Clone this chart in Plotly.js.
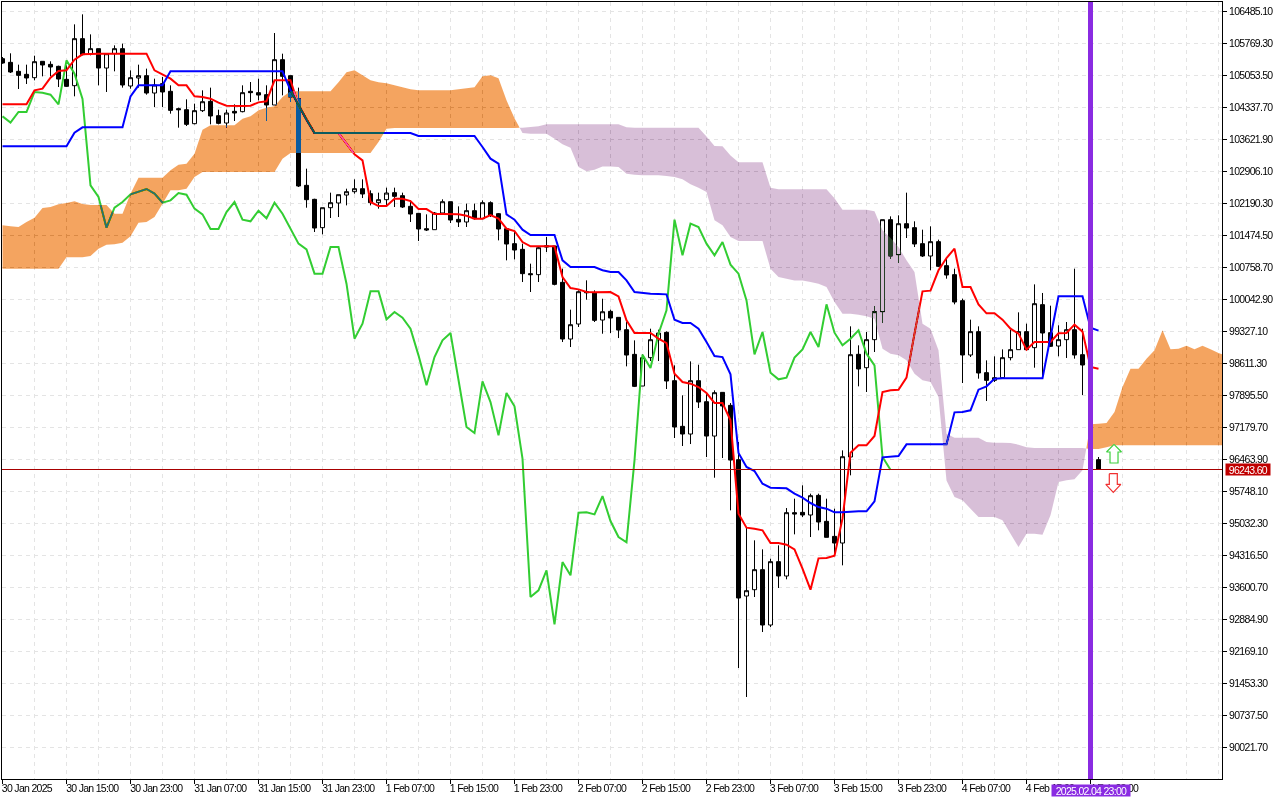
<!DOCTYPE html>
<html><head><meta charset="utf-8">
<script src="https://cdn.plot.ly/plotly-3.0.1.min.js"></script>
<style>
html,body{margin:0;padding:0;background:#fff}
#c{width:1280px;height:800px}
.main-svg text{letter-spacing:-0.7px}
</style></head><body><div id="c"></div>
<script>
const open=[105433,105351,105150,105083,105008,105374,105306,105262,104971,104829,105881,105545,105657,105224,105545,105657,104822,105001,105053,104665,104874,104703,104315,104292,103979,104270,104479,104158,103994,104255,104248,104703,104673,104628,104397,105411,105053,104538,102600,102287,101653,102100,102205,102383,102458,102525,102413,102212,102279,102436,102369,102130,101973,101630,101608,101981,102234,101839,101780,102033,101854,102212,101966,101630,101295,101168,100624,100602,101250,101243,100430,99162,99498,100221,100191,99587,99781,99647,99371,98819,98111,98745,99147,99311,98230,97209,97037,98230,97760,96992,97969,97678,96463,93414,93555,94003,92765,94182,93861,95278,95285,95226,95665,95084,94748,94599,96523,98820,98521,99148,99774,101832,101049,101742,101653,101295,101019,101340,100803,100602,100020,98805,99327,98410,98238,98298,98745,98924,99327,98969,99931,99304,99006,99148,99371,98812,98581,96464];
const high=[105470,105553,105299,105299,105500,105374,105374,105277,105284,106201,106425,105977,105657,105545,105731,105769,105172,105299,105210,104986,105023,104837,104337,104524,104427,104725,104785,104292,104292,104412,104837,104911,104986,104837,106007,105545,105053,104785,102973,102300,102100,102436,102391,102525,102734,102734,102488,102436,102548,102548,102436,102264,101981,101951,102003,102287,102234,102130,102190,102190,102264,102242,101981,101630,101556,101295,100848,101220,101444,101243,100736,99819,100251,100475,100251,100064,99818,99647,99542,99132,98819,99393,99371,99333,98573,97902,98662,98588,97939,98014,97969,97730,96858,94942,94659,94458,94249,94547,95382,95591,95889,95703,95703,95591,95367,96672,99446,99021,99319,99901,101832,101906,101929,102436,101795,101608,101683,101385,100997,100736,100065,99595,99446,98685,98775,98931,99371,99759,99506,100385,100192,99908,99468,99543,100736,99394,98600,96523];
const low=[105321,105113,104755,104867,104949,105038,105038,104799,104799,104591,105508,105508,104837,104688,105150,104785,104762,104785,104628,104352,104352,104203,103890,103927,103964,104240,103964,103964,103890,104039,104233,104464,104501,104039,104397,104613,104464,102563,102100,101556,101504,101869,101891,102152,102413,102316,102152,102078,102152,102115,102093,101780,101355,101578,101608,101966,101757,101668,101668,101832,101854,101891,101369,100922,100944,100437,100214,100437,101109,100363,99095,98983,99431,100042,99543,99281,99296,99184,98551,98088,98111,98670,98670,98044,96948,96769,96813,97619,96522,96060,96500,95330,91803,91155,93391,92608,92720,93593,93787,94793,95181,94733,94883,94726,94361,94100,96113,98104,97977,98872,99520,100952,100862,101422,101220,100997,100699,100773,100512,99938,98178,98760,98275,97776,98201,98298,98685,98924,98909,98521,98298,98984,98775,98738,98723,97910,96400,96243.6];
const close=[105336,105135,105060,105001,105366,105292,105247,104978,104814,105881,105523,105657,105224,105545,105657,104844,105008,105053,104665,104844,104688,104277,104292,103964,104270,104471,104151,103987,104218,104218,104673,104673,104620,104397,105411,105038,104576,102585,102279,101645,102100,102212,102391,102458,102525,102406,102212,102279,102428,102354,102115,101958,101623,101601,101981,102234,101824,101780,102033,101854,102212,101929,101623,101287,101153,100624,100602,101205,101220,100385,99162,99483,100221,100199,99580,99773,99632,99363,98804,98103,98745,99147,99296,98223,97194,97037,98230,97753,96992,97962,97663,96455,93369,93533,94003,92765,94182,93861,95278,95248,95226,95658,95069,94726,94599,96530,98812,98492,99148,99774,101832,101019,101742,101645,101288,101019,101340,100788,100594,99990,98805,99327,98402,98238,98298,98745,98924,99327,98924,99953,99297,98999,99148,99371,98805,98581,96464,96243.6];

const tenkan=[104412,104412,104412,104412,104725,104762,105008,105157,105172,105411,105530,105545,105545,105545,105545,105545,105545,105545,105545,105172,105083,104986,104837,104837,104591,104576,104538,104449,104382,104374,104374,104382,104456,104479,104949,104949,104949,104389,104069,103770,103770,103770,103770,103532,103293,103159,102227,102137,102137,102301,102301,102249,102070,102070,101958,101958,101958,101951,101921,101854,101854,101936,101854,101630,101578,101332,101235,101235,101235,101235,100549,100303,100273,100214,100206,100213,100213,100116,99580,99296,99296,99296,99170,99072,98387,98200,98163,98088,97954,97731,97731,97343,95255,94942,94920,94883,94599,94599,94562,94458,94025,93555,94256,94264,94316,95143,96620,96784,96784,96993,97977,98014,98029,98298,99282,100229,100244,100699,100974,101183,100326,100326,99938,99737,99737,99595,99394,99282,98924,99096,99096,99096,99289,99297,99483,99327,98536,98499];
const kijun=[103472,103472,103472,103472,103472,103472,103472,103472,103472,103778,103897,103897,103897,103897,103897,103897,104591,104837,104837,104837,104837,105150,105150,105150,105150,105150,105150,105150,105150,105150,105150,105150,105150,105150,105150,105150,104725,104389,104069,103770,103770,103770,103770,103770,103770,103770,103770,103770,103770,103770,103770,103770,103703,103703,103703,103703,103703,103703,103703,103703,103457,103196,103084,101951,101832,101608,101489,101489,101489,101489,100922,100773,100773,100773,100773,100700,100661,100661,100474,100213,100191,100176,100169,100161,99594,99520,99520,99393,99095,98782,98759,98372,96612,96299,96210,95926,95837,95829,95822,95703,95613,95494,95404,95367,95285,95285,95300,95307,95307,95531,96516,96531,96546,96807,96807,96807,96807,96807,96807,97522,97530,97567,98029,98104,98275,98283,98283,98283,98283,98283,98283,99207,100117,100117,100117,100117,99416,99349];
const chikou=[104143,104002,104240,104240,104688,104673,104628,104412,105396,105098,104531,102600,102339,101653,102100,102227,102399,102466,102518,102414,102212,102264,102428,102391,102078,101951,101623,101623,102003,102227,101832,101795,102033,101862,102212,101966,101631,101295,101168,100624,100624,101220,101220,100400,99170,99505,100229,100229,99603,99766,99640,99394,98797,98126,98760,99132,99296,98200,97194,97060,98215,97753,97007,97954,97656,96485,93391,93540,93988,92780,94174,93876,95278,95285,95240,95650,95091,94733,94614,96448,98812,98514,99282,99804,101832,101034,101742,101668,101295,101034,101332,100825,100624,100027,98819,99319,98409,98260,98297,98745,98931,99319,98983,99938,99304,99021,99170,99356,98834,98573,96523,96240];
const senkouA=[101705,101683,101668,101780,101877,102093,102115,102175,102205,102242,102182,102160,102160,102160,101966,101966,102414,102771,102771,102771,102771,102935,103062,103085,103308,103845,103942,103942,103942,103942,104091,104143,104278,104337,104367,104576,104703,104703,104703,104702,104702,104702,104904,105127,105172,105060,104948,104904,104881,104837,104792,104747,104725,104725,104725,104725,104725,104747,104770,104792,105038,105060,104993,104501,104098,103770,103755,103755,103755,103643,103517,103442,103009,102913,102950,103024,103024,103009,102860,102838,102823,102823,102823,102808,102786,102734,102622,102547,102450,101817,101705,101444,101354,101354,101354,101354,100735,100549,100512,100474,100474,100437,100400,100325,99990,99729,99729,99707,99669,99617,98946,98834,98797,98685,98387,98238,98200,97865,96000,95628,95553,95367,95181,95181,95181,95106,94808,94510,94808,94808,94785,95218,95963,96001,96023,96225,97254,97269,97284,97530,98089,98499,98499,98723,98909,99357,98932,98947,99014,98932,99014,98932,98850];
const senkouB=[100736,100736,100736,100736,100736,100736,100736,100736,100989,100989,100989,101019,101183,101273,101280,101317,101459,101765,101780,101892,102190,102488,102488,102525,102786,102898,102898,102898,102898,102898,102898,102898,102898,102898,102898,103196,103323,103323,103323,103323,103323,103323,103323,103323,103323,103323,103323,103569,103867,103882,103882,103882,103882,103882,103882,103882,103882,103882,103882,103882,103882,103882,103882,103882,103882,103889,103904,103919,103964,103964,103964,103964,103964,103964,103964,103964,103964,103964,103897,103889,103889,103889,103889,103889,103889,103889,103889,103889,103695,103479,103472,103270,103114,103114,103114,103114,102547,102510,102510,102510,102510,102510,102510,102510,102309,102055,102055,102055,102055,102018,101593,101421,101220,100922,100661,99505,99393,98909,97045,96955,96955,96955,96955,96858,96843,96843,96836,96798,96739,96724,96724,96724,96724,96724,96724,96724,96702,96702,96740,96784,96784,96784,96784,96784,96784,96784,96784,96784,96784,96784,96784,96784,96784,96784];

const priceTicks=[106485.10,105769.30,105053.50,104337.70,103621.90,102906.10,102190.30,101474.50,100758.70,100042.90,99327.10,98611.30,97895.50,97179.70,96463.90,95748.10,95032.30,94316.50,93600.70,92884.90,92169.10,91453.30,90737.50,90021.70];
const timeTicks=[0,8,16,24,32,40,48,56,64,72,80,88,96,104,112,120,128,136];
const timeLabels=["30 Jan 2025","30 Jan 15:00","30 Jan 23:00","31 Jan 07:00","31 Jan 15:00","31 Jan 23:00","1 Feb 07:00","1 Feb 15:00","1 Feb 23:00","2 Feb 07:00","2 Feb 15:00","2 Feb 23:00","3 Feb 07:00","3 Feb 15:00","3 Feb 23:00","4 Feb 07:00","4 Feb 15:00","4 Feb 23:00"];
const lastPrice=96243.60, cursorBar=136, cursorLabel="2025.02.04 23:00";
const upArrowX=[138.94,139.88,139.44,139.44,138.44,138.44,138.0,138.94];
const upArrowY=[96807,96635,96635,96389,96389,96635,96635,96807];
const downArrowX=[138.35,139.35,139.35,139.79,138.85,137.91,138.35,138.35];
const downArrowY=[96150,96150,95912,95912,95733,95912,95912,96150];

const FONT='"Liberation Sans",Arial,sans-serif';
const xRange=[-0.0625,152.4375];
const yTop=106700.9, yBot=89320.5;
const bars=open.map((_,i)=>i);

// split the cloud wherever span A and span B cross
const cloudRuns=[];
(function(){
  const n=senkouA.length;
  const xs=senkouA.map((_,i)=>i); xs.push(xRange[1]);
  const A=senkouA.concat([98820]), B=senkouB.concat([96784]);
  let cur={x:[xs[0]],a:[A[0]],b:[B[0]],up:A[0]>=B[0]};
  for(let i=1;i<=n;i++){
    const up=A[i]>=B[i];
    if(up!==cur.up){
      const d0=A[i-1]-B[i-1], d1=A[i]-B[i], t=d0/(d0-d1);
      const xc=xs[i-1]+t*(xs[i]-xs[i-1]), yc=A[i-1]+t*(A[i]-A[i-1]);
      cur.x.push(xc);cur.a.push(yc);cur.b.push(yc);cloudRuns.push(cur);
      cur={x:[xc],a:[yc],b:[yc],up:up};
    }
    cur.x.push(xs[i]);cur.a.push(A[i]);cur.b.push(B[i]);
  }
  cloudRuns.push(cur);
})();
const cloudTraces=cloudRuns.map(r=>({
  type:'scatter',mode:'none',x:r.x.concat(r.x.slice().reverse()),y:r.a.concat(r.b.slice().reverse()),
  fill:'toself',fillcolor:r.up?'#0b5b9f':'#274027',hoverinfo:'skip',showlegend:false
}));
function lineTrace(y,color){return {type:'scatter',mode:'lines',x:y.map((_,i)=>i),y:y,line:{color:color,width:2,shape:'linear'},hoverinfo:'skip',showlegend:false};}
function arrowTrace(x,y,color){return {type:'scatter',mode:'lines',x:x,y:y,fill:'toself',fillcolor:'#ffffff',line:{color:color,width:1.2},hoverinfo:'skip',showlegend:false};}

const data=[
 {type:'candlestick',x:bars,open:open,high:high,low:low,close:close,whiskerwidth:0,
  increasing:{line:{color:'#000',width:1},fillcolor:'#fff'},
  decreasing:{line:{color:'#000',width:1},fillcolor:'#000'},hoverinfo:'skip',showlegend:false},
 lineTrace(chikou,'#32cd32'),lineTrace(tenkan,'#ff0000'),lineTrace(kijun,'#0000ff'),
 ...cloudTraces,
 arrowTrace(upArrowX,upArrowY,'#3fd03f'),arrowTrace(downArrowX,downArrowY,'#f03030')
];
const anns=timeLabels.map((t,i)=>({xref:'x',yref:'paper',x:timeTicks[i],y:0,xanchor:'left',yanchor:'top',xshift:-6,yshift:-2,text:t,showarrow:false,font:{family:FONT,size:10.5,color:'#000'},borderpad:0}));
anns.push({xref:'x',yref:'paper',x:cursorBar,y:0,xanchor:'center',yanchor:'top',yshift:-5,text:cursorLabel,showarrow:false,width:78,height:11,bgcolor:'#8a2be2',font:{family:FONT,size:10.5,color:'#fff'},borderpad:0});
anns.push({xref:'paper',yref:'y',x:1.0024,y:lastPrice,xanchor:'left',yanchor:'middle',text:lastPrice.toFixed(2),showarrow:false,width:44,height:11,bgcolor:'#c00000',font:{family:FONT,size:10.5,color:'#fff'},borderpad:0});
const layout={
 width:1280,height:800,margin:{l:2,r:58,t:2,b:21,pad:0},autosize:false,
 paper_bgcolor:'#ffffff',plot_bgcolor:'#ffffff',showlegend:false,boxgap:0.5,boxgroupgap:0,dragmode:false,
 xaxis:{range:xRange,type:'linear',rangeslider:{visible:false},tickmode:'array',tickvals:timeTicks,ticktext:timeTicks.map(()=>''),
  ticks:'outside',ticklen:4,tickcolor:'#000',showgrid:true,gridcolor:'#e4e4e4',griddash:'4px,4px',gridwidth:1,
  minor:{tickmode:'linear',tick0:0,dtick:4,showgrid:true,gridcolor:'#e4e4e4',griddash:'4px,4px',gridwidth:1,ticks:''},
  showline:true,linecolor:'#000',linewidth:1,mirror:true,zeroline:false,fixedrange:true},
 yaxis:{range:[yBot,yTop],side:'right',tickmode:'array',tickvals:priceTicks,ticktext:priceTicks.map(v=>v.toFixed(2)),
  ticks:'outside',ticklen:4,tickcolor:'#000',tickfont:{family:FONT,size:10.5,color:'#000'},
  showgrid:true,gridcolor:'#e4e4e4',griddash:'4px,4px',gridwidth:1,showline:true,linecolor:'#000',linewidth:1,mirror:true,zeroline:false,fixedrange:true},
 shapes:[
  {type:'line',layer:'above',xref:'x',yref:'y',x0:xRange[0],x1:xRange[1],y0:lastPrice,y1:lastPrice,line:{color:'#a80000',width:1}},
  {type:'line',layer:'above',xref:'x',yref:'paper',x0:cursorBar,x1:cursorBar,y0:0,y1:1,line:{color:'#8a2be2',width:5}}
 ],
 annotations:anns
};
Plotly.newPlot('c',data,layout,{staticPlot:true,displayModeBar:false}).then(()=>{
 // the terminal paints its cloud in inverting mode: lift the fills to the root of the svg so they blend with all below
 const NS='http://www.w3.org/2000/svg';
 const all=[...document.querySelectorAll('.cartesianlayer path')];
 const cloud=all.filter(p=>{const f=p.style.fill;return f==='rgb(11, 91, 159)'||f==='rgb(39, 64, 39)';});
 const arrows=all.filter(p=>p.style.fill==='rgb(255, 255, 255)'&&p.closest('.scatterlayer')).map(p=>p.closest('.trace'));
 if(!cloud.length) return;
 const layer=document.querySelector('.cartesianlayer');
 const m=cloud[0].getCTM();
 const mat=`matrix(${m.a},${m.b},${m.c},${m.d},${m.e},${m.f})`;
 const blend=document.createElementNS(NS,'g');
 blend.setAttribute('transform',mat);blend.style.mixBlendMode='difference';
 cloud.forEach(p=>blend.appendChild(p));
 const top=document.createElementNS(NS,'g');
 top.setAttribute('transform',mat);
 arrows.forEach(t=>top.appendChild(t));
 layer.parentNode.insertBefore(blend,layer.nextSibling);
 layer.parentNode.insertBefore(top,blend.nextSibling);
});
</script></body></html>
